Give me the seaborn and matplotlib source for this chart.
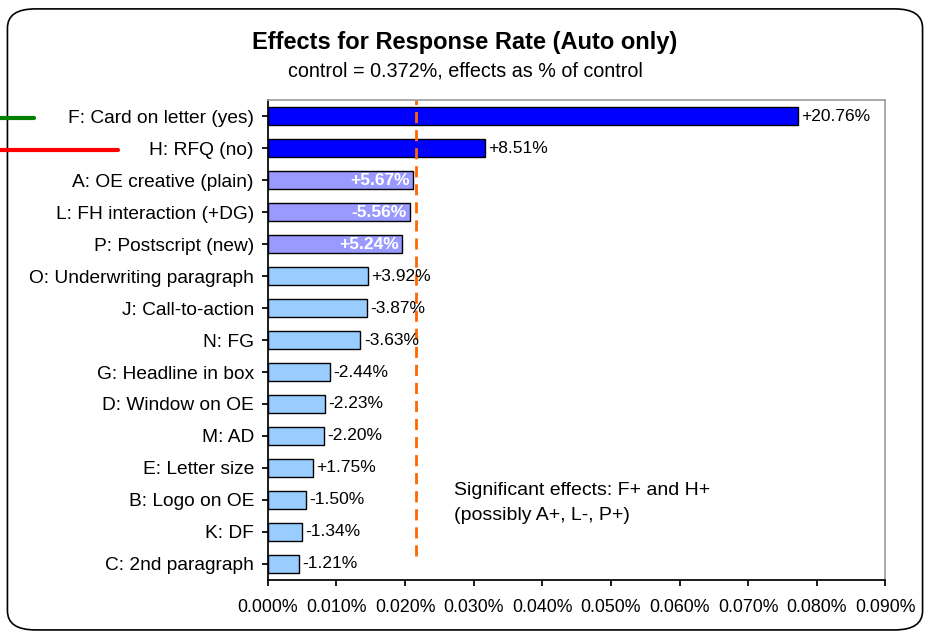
import matplotlib
matplotlib.use("Agg")
import matplotlib.pyplot as plt
import seaborn as sns
import pandas as pd
from matplotlib.patches import FancyBboxPatch
from matplotlib.lines import Line2D
from matplotlib.ticker import FuncFormatter, MultipleLocator

sns.set_theme(style="white")
plt.rcParams['font.family'] = ['Liberation Sans', 'DejaVu Sans']
plt.rcParams['text.color'] = 'black'
plt.rcParams['xtick.color'] = 'black'
plt.rcParams['ytick.color'] = 'black'

control = 0.372  # percent
factors = ["F: Card on letter (yes)", "H: RFQ (no)", "A: OE creative (plain)",
           "L: FH interaction (+DG)", "P: Postscript (new)", "O: Underwriting paragraph",
           "J: Call-to-action", "N: FG", "G: Headline in box", "D: Window on OE",
           "M: AD", "E: Letter size", "B: Logo on OE", "K: DF", "C: 2nd paragraph"]
effects = [20.76, 8.51, 5.67, -5.56, 5.24, 3.92, -3.87, -3.63, -2.44, -2.23,
           -2.20, 1.75, -1.50, -1.34, -1.21]
groups = ["sig", "sig", "possible", "possible", "possible"] + ["ns"] * 10
threshold = 0.0216

df = pd.DataFrame({
    "factor": factors,
    "effect": effects,
    "size": [abs(e) * control / 100 for e in effects],
    "group": groups,
})
palette = {"sig": "#0000FF", "possible": "#9999FF", "ns": "#99CCFF"}

fig = plt.figure(figsize=(9.3, 6.35), dpi=100)
ax = fig.add_axes([0.288, 0.087, 0.664, 0.755])

sns.barplot(data=df, y="factor", x="size", hue="group", palette=palette,
            dodge=False, legend=False, width=0.56, edgecolor="black",
            linewidth=1.0, saturation=1, ax=ax)

ax.set_xlim(0, 0.09)
ax.xaxis.set_major_locator(MultipleLocator(0.01))
ax.xaxis.set_major_formatter(FuncFormatter(lambda v, p: f"{v:.3f}%"))
ax.set_xlabel("")
ax.set_ylabel("")
ax.tick_params(axis="x", labelsize=12.8, length=4, direction="out", bottom=True, pad=10)
ax.tick_params(axis="y", labelsize=13.8, length=4, direction="out", left=True, pad=6)
for s in ["top", "right"]:
    ax.spines[s].set_color("#A0A0A0")
for s in ["left", "bottom"]:
    ax.spines[s].set_color("black")
ax.set_ylim(len(factors) - 0.5, -0.5)

for i, (sz, e, g) in enumerate(zip(df["size"], effects, groups)):
    lab = f"{e:+.2f}%"
    if g == "possible":
        ax.text(sz - 0.0004, i, lab, ha="right", va="center", color="white",
                fontweight="bold", fontsize=12.5)
    else:
        ax.text(sz + 0.0005, i, lab, ha="left", va="center", color="black",
                fontsize=12.5)

ax.axvline(threshold, color="#FF6600", linestyle=(0, (4, 2.5)), linewidth=2,
           ymin=0.05, ymax=1.0)

ax.text(0.0272, 11.45, "Significant effects: F+ and H+\n(possibly A+, L-, P+)",
        ha="left", va="top", fontsize=14, linespacing=1.6)

fig.text(0.5, 0.933, "Effects for Response Rate (Auto only)", ha="center",
         va="center", fontsize=17, fontweight="bold")
fig.text(0.5, 0.888, "control = 0.372%, effects as % of control", ha="center",
         va="center", fontsize=14.2)

fig.patches.append(FancyBboxPatch((0.008, 0.008), 0.984, 0.978,
                                  boxstyle="round,pad=0,rounding_size=0.03",
                                  transform=fig.transFigure, fill=False,
                                  edgecolor="black", linewidth=1.2, zorder=0))
fig.lines.append(Line2D([0, 0.037], [1 - 118 / 635] * 2, transform=fig.transFigure,
                        color="#008000", linewidth=3))
fig.lines.append(Line2D([0, 0.127], [1 - 150 / 635] * 2, transform=fig.transFigure,
                        color="#FF0000", linewidth=3))

fig.savefig("out.png", dpi=100)
